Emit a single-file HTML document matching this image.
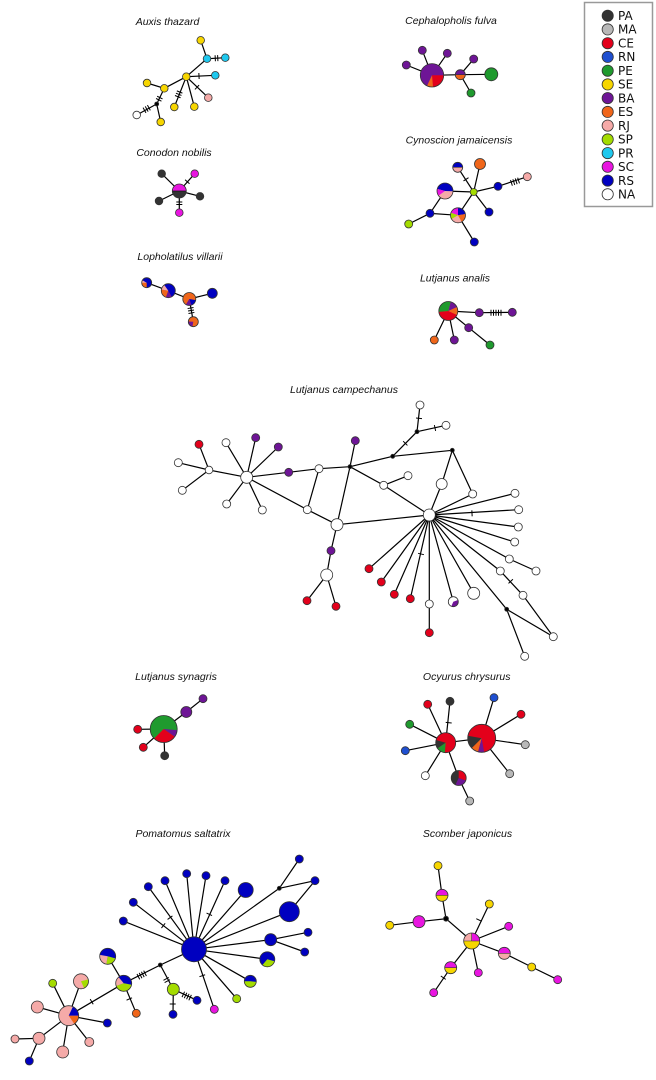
<!DOCTYPE html>
<html><head><meta charset="utf-8"><style>
html,body{margin:0;padding:0;background:#fff;}
svg{display:block;}
.e line,.e path{stroke:#000;stroke-width:1.2;fill:none;}
.t path{stroke:#000;stroke-width:1;fill:none;}
.n circle{stroke:#333;stroke-width:.8;}
.ttl{font-family:"Liberation Sans",Arial,sans-serif;font-style:italic;font-size:10.5px;fill:#111;text-anchor:middle;}
.lg{font-family:"DejaVu Sans","Liberation Sans",sans-serif;font-size:12px;fill:#111;}
</style></head><body>
<svg width="656" height="1080" viewBox="0 0 656 1080" xmlns="http://www.w3.org/2000/svg">

<!-- Titles -->
<text class="ttl" x="167.5" y="25">Auxis thazard</text>
<text class="ttl" x="451" y="24">Cephalopholis fulva</text>
<text class="ttl" x="174" y="156">Conodon nobilis</text>
<text class="ttl" x="459" y="143.3">Cynoscion jamaicensis</text>
<text class="ttl" x="180" y="260">Lopholatilus villarii</text>
<text class="ttl" x="455" y="281.7">Lutjanus analis</text>
<text class="ttl" x="344" y="393">Lutjanus campechanus</text>
<text class="ttl" x="176" y="680">Lutjanus synagris</text>
<text class="ttl" x="466.7" y="680">Ocyurus chrysurus</text>
<text class="ttl" x="183" y="837">Pomatomus saltatrix</text>
<text class="ttl" x="467.5" y="837">Scomber japonicus</text>

<!-- Legend -->
<rect x="584.5" y="2.5" width="68" height="204" fill="#fff" stroke="#999" stroke-width="1.5"/>
<g class="n">
<circle cx="607.7" cy="15.7" r="5.6" fill="#333333"/>
<circle cx="607.7" cy="29.4" r="5.6" fill="#b8b8b8"/>
<circle cx="607.7" cy="43.2" r="5.6" fill="#e3001b"/>
<circle cx="607.7" cy="56.9" r="5.6" fill="#1f4fd0"/>
<circle cx="607.7" cy="70.7" r="5.6" fill="#1f9a2e"/>
<circle cx="607.7" cy="84.4" r="5.6" fill="#f7d600"/>
<circle cx="607.7" cy="98.1" r="5.6" fill="#6e1596"/>
<circle cx="607.7" cy="111.9" r="5.6" fill="#f0661a"/>
<circle cx="607.7" cy="125.6" r="5.6" fill="#f5aaa8"/>
<circle cx="607.7" cy="139.4" r="5.6" fill="#a4dc00"/>
<circle cx="607.7" cy="153.1" r="5.6" fill="#1ec8ee"/>
<circle cx="607.7" cy="166.8" r="5.6" fill="#e815e0"/>
<circle cx="607.7" cy="180.6" r="5.6" fill="#0000c0"/>
<circle cx="607.7" cy="194.3" r="5.6" fill="#ffffff"/>
</g>
<text class="lg" x="618" y="20">PA</text>
<text class="lg" x="618" y="33.7">MA</text>
<text class="lg" x="618" y="47.5">CE</text>
<text class="lg" x="618" y="61.2">RN</text>
<text class="lg" x="618" y="75">PE</text>
<text class="lg" x="618" y="88.7">SE</text>
<text class="lg" x="618" y="102.4">BA</text>
<text class="lg" x="618" y="116.2">ES</text>
<text class="lg" x="618" y="129.9">RJ</text>
<text class="lg" x="618" y="143.7">SP</text>
<text class="lg" x="618" y="157.4">PR</text>
<text class="lg" x="618" y="171.1">SC</text>
<text class="lg" x="618" y="184.9">RS</text>
<text class="lg" x="618" y="198.6">NA</text>

<!-- ===== EDGES ===== -->
<g class="e">
<!-- Auxis -->
<path d="M200.7,40.3L207,58.7L225.3,57.7M207,58.7L186.3,76.7L215.3,75.3M186.3,76.7L208.3,97.7M186.3,76.7L164.3,88.3L147,83M186.3,76.7L174.3,107M186.3,76.7L194.3,106.7M164.3,88.3L156.7,104L136.7,115M156.7,104L160.7,122"/>
<!-- Cephalopholis -->
<path d="M432,75.3L406.3,65M432,75.3L422.3,50.3M432,75.3L447.3,53.3M432,75.3L460.3,74.7L491.3,74.3M460.3,74.7L473.7,59M460.3,74.7L471,93"/>
<!-- Cynoscion -->
<path d="M457.7,167.3L473.7,192M480,164L473.7,192M445,191L473.7,192L498,186.3L527.3,176.7M473.7,192L489,212M473.7,192L458,215.3M445,191L430,213.3L458,215.3M430,213.3L408.7,224M458,215.3L474.3,242"/>
<!-- Conodon -->
<path d="M179.3,191L161.7,173.7M179.3,191L194.7,173.7M179.3,191L159,201M179.3,191L200,196.3M179.3,191L179.3,212.7"/>
<!-- Lopholatilus -->
<path d="M146.7,282.7L168.3,290.7L189.3,299L212.3,293.3M189.3,299L193.3,321.7"/>
<!-- Analis -->
<path d="M448.3,311L479.3,312.7L512.3,312.3M448.3,311L468.7,327.7L490,345M448.3,311L434.3,340M448.3,311L454.3,340"/>
<!-- Campechanus -->
<path d="M199,444.3L209,470M178.3,462.7L209,470M182.3,490.3L209,470L246.7,477.3
M246.7,477.3L226,442.7M246.7,477.3L255.7,437.7M246.7,477.3L278.3,447M246.7,477.3L226.7,504M246.7,477.3L262.3,510M246.7,477.3L288.7,472.3L319,468.7L350,466.7M246.7,477.3L307.3,509.7L337,524.7M319,468.7L307.3,509.7
M350,466.7L355.3,440.7M350,466.7L337,524.7M350,466.7L392.7,456.3L452.3,450.3M392.7,456.3L417,431.7L420,405M417,431.7L446,425.3
M350,466.7L383.7,485.3L429.3,515M383.7,485.3L408,475.7M337,524.7L429.3,515M452.3,450.3L441.7,484L429.3,515M452.3,450.3L472.7,494L429.3,515
M429.3,515L515,493.3M429.3,515L518.7,509.7M429.3,515L518.3,527M429.3,515L514.7,542M429.3,515L509.3,559L536,571M429.3,515L500.3,571L523,595.3L553.3,636.7M429.3,515L506.7,609.3L553.3,636.7M506.7,609.3L524.7,656.3
M429.3,515L369,568.7M429.3,515L381.3,582M429.3,515L394.3,594.3M429.3,515L410.3,598.7M429.3,515L429.3,604L429.3,632.7M429.3,515L453.3,601.7M429.3,515L473.7,593.3
M337,524.7L331,550.7L326.7,575L307,600.7M326.7,575L336,606.3"/>
<!-- Synagris -->
<path d="M163.7,729L186.3,712L203,698.7M163.7,729L137.7,729.3M163.7,729L143.3,747.3M163.7,729L164.7,755.7"/>
<!-- Ocyurus -->
<path d="M445.7,742.7L481.7,738.3M445.7,742.7L427.7,704.3M445.7,742.7L450,701.3M445.7,742.7L409.7,724.3M445.7,742.7L405.3,750.7M445.7,742.7L425.3,775.7M445.7,742.7L458.7,778L469.7,801M481.7,738.3L494,697.7M481.7,738.3L521,714.3M481.7,738.3L525.3,744.7M481.7,738.3L509.7,773.7"/>
<!-- Pomatomus -->
<path d="M194,949.3L123.3,921M194,949.3L133.3,902.3M194,949.3L148.3,886.7M194,949.3L165,880.7M194,949.3L186.7,873.7M194,949.3L206,875.7M194,949.3L225,880.7M194,949.3L245.7,890M194,949.3L279.3,888.3M194,949.3L289.3,911.7M194,949.3L270.7,939.7M194,949.3L267.3,959.3M194,949.3L250.3,981.3M194,949.3L236.7,998.7M194,949.3L214.3,1009.3M194,949.3L160.3,965
M279.3,888.3L299.3,859M279.3,888.3L315,880.7L289.3,911.7M270.7,939.7L308,932.3M270.7,939.7L304.7,952
M160.3,965L173.3,989.3L197,1000.3M173.3,989.3L173,1014.3M160.3,965L123.7,983.3L107.7,956.3M123.7,983.3L136.3,1013.3M123.7,983.3L68.7,1015.7
M68.7,1015.7L81,981.3M68.7,1015.7L52.7,983.3M68.7,1015.7L37.3,1007M68.7,1015.7L107.3,1023M68.7,1015.7L89.3,1042M68.7,1015.7L62.7,1052M68.7,1015.7L39,1038.3L15,1039M39,1038.3L29.3,1061"/>
<!-- Scomber -->
<path d="M438,865.7L442,895.3L446,918.7L419,921.7L389.7,925.3M446,918.7L471.7,941L489.3,904M471.7,941L508.7,926.3M471.7,941L504.3,953.3L531.7,967L557.7,979.7M471.7,941L478.3,972.7M471.7,941L450.7,967.7L433.7,992.7"/>
</g>

<!-- ===== TICKS ===== -->
<g class="t">
<path transform="translate(216.5,58.2) rotate(-3)" d="M-1.25,-3V3M1.25,-3V3"/>
<path transform="translate(199,76) rotate(-3)" d="M0,-3V3"/>
<path transform="translate(197,87.3) rotate(44)" d="M0,-3V3"/>
<path transform="translate(178.7,94.3) rotate(112)" d="M-2.5,-3V3M0,-3V3M2.5,-3V3"/>
<path transform="translate(159.3,98.7) rotate(116)" d="M-1.25,-3V3M1.25,-3V3"/>
<path transform="translate(146.7,109) rotate(151)" d="M-2.5,-3V3M0,-3V3M2.5,-3V3"/>
<path transform="translate(187.3,181.7) rotate(-48)" d="M0,-3V3"/>
<path transform="translate(179.3,203.3) rotate(90)" d="M-1.25,-3V3M1.25,-3V3"/>
<path transform="translate(191,310.5) rotate(80)" d="M-2.5,-3V3M0,-3V3M2.5,-3V3"/>
<path transform="translate(466,179.3) rotate(57)" d="M0,-3V3"/>
<path transform="translate(515,181.7) rotate(-18)" d="M-3.75,-3V3M-1.25,-3V3M1.25,-3V3M3.75,-3V3"/>
<path transform="translate(496,312.7) rotate(0)" d="M-5,-3V3M-2.5,-3V3M0,-3V3M2.5,-3V3M5,-3V3"/>
<path transform="translate(405.3,443.3) rotate(-45)" d="M0,-3V3"/>
<path transform="translate(419,418.3) rotate(-84)" d="M0,-3V3"/>
<path transform="translate(435,428) rotate(-12)" d="M0,-3V3"/>
<path transform="translate(472,513.3) rotate(-3)" d="M0,-3V3"/>
<path transform="translate(421,554) rotate(103)" d="M0,-3V3"/>
<path transform="translate(510.7,581.3) rotate(47)" d="M0,-3V3"/>
<path transform="translate(448.7,722.7) rotate(-84)" d="M0,-3V3"/>
<path transform="translate(163.3,925.7) rotate(38)" d="M0,-3V3"/>
<path transform="translate(170,917.7) rotate(54)" d="M0,-3V3"/>
<path transform="translate(209.3,914.3) rotate(-66)" d="M0,-3V3"/>
<path transform="translate(202.3,975.7) rotate(71)" d="M0,-3V3"/>
<path transform="translate(166.7,980) rotate(62)" d="M-1.25,-3V3M1.25,-3V3"/>
<path transform="translate(186.7,996) rotate(25)" d="M-3.75,-3V3M-1.25,-3V3M1.25,-3V3M3.75,-3V3"/>
<path transform="translate(172.7,1004) rotate(90)" d="M0,-3V3"/>
<path transform="translate(141.7,975) rotate(153)" d="M-3.75,-3V3M-1.25,-3V3M1.25,-3V3M3.75,-3V3"/>
<path transform="translate(129.3,999) rotate(67)" d="M0,-3V3"/>
<path transform="translate(91.7,1001.7) rotate(150)" d="M0,-3V3"/>
<path transform="translate(479,920) rotate(-65)" d="M0,-3V3"/>
<path transform="translate(443.3,977.7) rotate(124)" d="M0,-3V3"/>
</g>

<!-- ===== NODES ===== -->
<g class="n">
<!-- Auxis -->
<circle cx="200.7" cy="40.3" r="3.8" fill="#f7d600"/>
<circle cx="207" cy="58.7" r="3.8" fill="#1ec8ee"/>
<circle cx="225.3" cy="57.7" r="3.8" fill="#1ec8ee"/>
<circle cx="186.3" cy="76.7" r="3.8" fill="#f7d600"/>
<circle cx="215.3" cy="75.3" r="3.8" fill="#1ec8ee"/>
<circle cx="208.3" cy="97.7" r="3.8" fill="#f5aaa8"/>
<circle cx="164.3" cy="88.3" r="3.8" fill="#f7d600"/>
<circle cx="147" cy="83" r="3.8" fill="#f7d600"/>
<circle cx="174.3" cy="107" r="3.8" fill="#f7d600"/>
<circle cx="194.3" cy="106.7" r="3.8" fill="#f7d600"/>
<circle cx="156.7" cy="104" r="2" fill="#000"/>
<circle cx="136.7" cy="115" r="3.8" fill="#fff"/>
<circle cx="160.7" cy="122" r="3.8" fill="#f7d600"/>

<!-- Cephalopholis -->
<circle cx="406.3" cy="65" r="4" fill="#6e1596"/>
<circle cx="422.3" cy="50.3" r="4" fill="#6e1596"/>
<circle cx="447.3" cy="53.3" r="4" fill="#6e1596"/>
<circle cx="473.7" cy="59" r="4" fill="#6e1596"/>
<circle cx="491.3" cy="74.3" r="6.5" fill="#1f9a2e"/>
<circle cx="471" cy="93" r="4" fill="#1f9a2e"/>

<!-- Cynoscion -->
<circle cx="480" cy="164" r="5.5" fill="#f0661a"/>
<circle cx="473.7" cy="192" r="3.5" fill="#a4dc00"/>
<circle cx="498" cy="186.3" r="4" fill="#0000c0"/>
<circle cx="527.3" cy="176.7" r="4" fill="#f5aaa8"/>
<circle cx="489" cy="212" r="4" fill="#0000c0"/>
<circle cx="430" cy="213.3" r="4" fill="#0000c0"/>
<circle cx="408.7" cy="224" r="4" fill="#a4dc00"/>
<circle cx="474.3" cy="242" r="4" fill="#0000c0"/>

<!-- Conodon -->
<circle cx="161.7" cy="173.7" r="3.8" fill="#333"/>
<circle cx="194.7" cy="173.7" r="3.8" fill="#e815e0"/>
<circle cx="159" cy="201" r="3.8" fill="#333"/>
<circle cx="200" cy="196.3" r="3.8" fill="#333"/>
<circle cx="179.3" cy="212.7" r="3.8" fill="#e815e0"/>

<!-- Lopholatilus -->
<circle cx="212.3" cy="293.3" r="5" fill="#0000c0"/>

<!-- Analis -->
<circle cx="479.3" cy="312.7" r="4" fill="#6e1596"/>
<circle cx="512.3" cy="312.3" r="4" fill="#6e1596"/>
<circle cx="468.7" cy="327.7" r="4" fill="#6e1596"/>
<circle cx="490" cy="345" r="4" fill="#1f9a2e"/>
<circle cx="434.3" cy="340" r="4" fill="#f0661a"/>
<circle cx="454.3" cy="340" r="4" fill="#6e1596"/>

<!-- Campechanus -->
<circle cx="199" cy="444.3" r="4" fill="#e3001b"/>
<circle cx="226" cy="442.7" r="4" fill="#fff"/>
<circle cx="255.7" cy="437.7" r="4" fill="#6e1596"/>
<circle cx="278.3" cy="447" r="4" fill="#6e1596"/>
<circle cx="178.3" cy="462.7" r="4" fill="#fff"/>
<circle cx="209" cy="470" r="3.8" fill="#fff"/>
<circle cx="182.3" cy="490.3" r="4" fill="#fff"/>
<circle cx="246.7" cy="477.3" r="6" fill="#fff"/>
<circle cx="288.7" cy="472.3" r="4" fill="#6e1596"/>
<circle cx="319" cy="468.7" r="4" fill="#fff"/>
<circle cx="350" cy="466.7" r="2" fill="#000"/>
<circle cx="355.3" cy="440.7" r="4" fill="#6e1596"/>
<circle cx="226.7" cy="504" r="4" fill="#fff"/>
<circle cx="262.3" cy="510" r="4" fill="#fff"/>
<circle cx="307.3" cy="509.7" r="4" fill="#fff"/>
<circle cx="337" cy="524.7" r="6" fill="#fff"/>
<circle cx="331" cy="550.7" r="4" fill="#6e1596"/>
<circle cx="326.7" cy="575" r="6" fill="#fff"/>
<circle cx="307" cy="600.7" r="4" fill="#e3001b"/>
<circle cx="336" cy="606.3" r="4" fill="#e3001b"/>
<circle cx="420" cy="405" r="4" fill="#fff"/>
<circle cx="417" cy="431.7" r="2" fill="#000"/>
<circle cx="446" cy="425.3" r="4" fill="#fff"/>
<circle cx="392.7" cy="456.3" r="2" fill="#000"/>
<circle cx="452.3" cy="450.3" r="2" fill="#000"/>
<circle cx="383.7" cy="485.3" r="4" fill="#fff"/>
<circle cx="408" cy="475.7" r="4" fill="#fff"/>
<circle cx="441.7" cy="484" r="5.5" fill="#fff"/>
<circle cx="472.7" cy="494" r="4" fill="#fff"/>
<circle cx="429.3" cy="515" r="6" fill="#fff"/>
<circle cx="515" cy="493.3" r="4" fill="#fff"/>
<circle cx="518.7" cy="509.7" r="4" fill="#fff"/>
<circle cx="518.3" cy="527" r="4" fill="#fff"/>
<circle cx="514.7" cy="542" r="4" fill="#fff"/>
<circle cx="509.3" cy="559" r="4" fill="#fff"/>
<circle cx="536" cy="571" r="4" fill="#fff"/>
<circle cx="500.3" cy="571" r="4" fill="#fff"/>
<circle cx="523" cy="595.3" r="4" fill="#fff"/>
<circle cx="506.7" cy="609.3" r="2" fill="#000"/>
<circle cx="553.3" cy="636.7" r="4" fill="#fff"/>
<circle cx="524.7" cy="656.3" r="4" fill="#fff"/>
<circle cx="369" cy="568.7" r="4" fill="#e3001b"/>
<circle cx="381.3" cy="582" r="4" fill="#e3001b"/>
<circle cx="394.3" cy="594.3" r="4" fill="#e3001b"/>
<circle cx="410.3" cy="598.7" r="4" fill="#e3001b"/>
<circle cx="429.3" cy="604" r="4" fill="#fff"/>
<circle cx="429.3" cy="632.7" r="4" fill="#e3001b"/>
<circle cx="473.7" cy="593.3" r="6" fill="#fff"/>

<!-- Synagris -->
<circle cx="186.3" cy="712" r="5.5" fill="#6e1596"/>
<circle cx="203" cy="698.7" r="4" fill="#6e1596"/>
<circle cx="137.7" cy="729.3" r="4" fill="#e3001b"/>
<circle cx="143.3" cy="747.3" r="4" fill="#e3001b"/>
<circle cx="164.7" cy="755.7" r="4" fill="#333"/>

<!-- Ocyurus -->
<circle cx="427.7" cy="704.3" r="4" fill="#e3001b"/>
<circle cx="450" cy="701.3" r="4" fill="#333"/>
<circle cx="409.7" cy="724.3" r="4" fill="#1f9a2e"/>
<circle cx="405.3" cy="750.7" r="4" fill="#1f4fd0"/>
<circle cx="425.3" cy="775.7" r="4" fill="#fff"/>
<circle cx="469.7" cy="801" r="4" fill="#b8b8b8"/>
<circle cx="494" cy="697.7" r="4" fill="#1f4fd0"/>
<circle cx="521" cy="714.3" r="4" fill="#e3001b"/>
<circle cx="525.3" cy="744.7" r="4" fill="#b8b8b8"/>
<circle cx="509.7" cy="773.7" r="4" fill="#b8b8b8"/>

<!-- Pomatomus -->
<circle cx="194" cy="949.3" r="12.5" fill="#0000c0"/>
<circle cx="299.3" cy="859" r="4" fill="#0000c0"/>
<circle cx="279.3" cy="888.3" r="2" fill="#000"/>
<circle cx="315" cy="880.7" r="4" fill="#0000c0"/>
<circle cx="289.3" cy="911.7" r="10" fill="#0000c0"/>
<circle cx="245.7" cy="890" r="7.5" fill="#0000c0"/>
<circle cx="225" cy="880.7" r="4" fill="#0000c0"/>
<circle cx="206" cy="875.7" r="4" fill="#0000c0"/>
<circle cx="186.7" cy="873.7" r="4" fill="#0000c0"/>
<circle cx="165" cy="880.7" r="4" fill="#0000c0"/>
<circle cx="148.3" cy="886.7" r="4" fill="#0000c0"/>
<circle cx="133.3" cy="902.3" r="4" fill="#0000c0"/>
<circle cx="123.3" cy="921" r="4" fill="#0000c0"/>
<circle cx="270.7" cy="939.7" r="6" fill="#0000c0"/>
<circle cx="308" cy="932.3" r="4" fill="#0000c0"/>
<circle cx="304.7" cy="952" r="4" fill="#0000c0"/>
<circle cx="236.7" cy="998.7" r="4" fill="#a4dc00"/>
<circle cx="214.3" cy="1009.3" r="4" fill="#e815e0"/>
<circle cx="160.3" cy="965" r="2" fill="#000"/>
<circle cx="173.3" cy="989.3" r="6" fill="#a4dc00"/>
<circle cx="197" cy="1000.3" r="4" fill="#0000c0"/>
<circle cx="173" cy="1014.3" r="4" fill="#0000c0"/>
<circle cx="136.3" cy="1013.3" r="4" fill="#f0661a"/>
<circle cx="52.7" cy="983.3" r="4" fill="#a4dc00"/>
<circle cx="37.3" cy="1007" r="6" fill="#f5aaa8"/>
<circle cx="107.3" cy="1023" r="4" fill="#0000c0"/>
<circle cx="89.3" cy="1042" r="4.5" fill="#f5aaa8"/>
<circle cx="62.7" cy="1052" r="6" fill="#f5aaa8"/>
<circle cx="39" cy="1038.3" r="6" fill="#f5aaa8"/>
<circle cx="15" cy="1039" r="4" fill="#f5aaa8"/>
<circle cx="29.3" cy="1061" r="4" fill="#0000c0"/>

<!-- Scomber -->
<circle cx="438" cy="865.7" r="4" fill="#f7d600"/>
<circle cx="446" cy="918.7" r="2.5" fill="#000"/>
<circle cx="419" cy="921.7" r="6" fill="#e815e0"/>
<circle cx="389.7" cy="925.3" r="4" fill="#f7d600"/>
<circle cx="489.3" cy="904" r="4" fill="#f7d600"/>
<circle cx="508.7" cy="926.3" r="4" fill="#e815e0"/>
<circle cx="531.7" cy="967" r="4" fill="#f7d600"/>
<circle cx="557.7" cy="979.7" r="4" fill="#e815e0"/>
<circle cx="478.3" cy="972.7" r="4" fill="#e815e0"/>
<circle cx="433.7" cy="992.7" r="4" fill="#e815e0"/>
</g>

<!-- ===== PIE CHARTS ===== -->
<g fill="none">
<!-- Cephalopholis big -->
<circle cx="432" cy="75.3" r="11.7" fill="#6e1596"/>
<circle cx="432" cy="75.3" r="5.85" stroke="#e3001b" stroke-width="11.7" stroke-dasharray="8.68 999"/>
<circle cx="432" cy="75.3" r="5.85" stroke="#f0661a" stroke-width="11.7" stroke-dasharray="3.06 999" transform="rotate(85 432 75.3)"/>
<circle cx="432" cy="75.3" r="11.7" stroke="#333" stroke-width=".8"/>
<!-- Cephalopholis mid -->
<circle cx="460.3" cy="74.7" r="5" fill="#6e1596"/>
<circle cx="460.3" cy="74.7" r="2.5" stroke="#f0661a" stroke-width="5" stroke-dasharray="7.85 999"/>
<line x1="455.3" y1="74.7" x2="465.3" y2="74.7" stroke="#333" stroke-width=".6"/>
<circle cx="460.3" cy="74.7" r="5" stroke="#333" stroke-width=".8"/>

<!-- Cynoscion top -->
<circle cx="457.7" cy="167.3" r="5" fill="#0000c0"/>
<circle cx="457.7" cy="167.3" r="2.5" stroke="#f5aaa8" stroke-width="5" stroke-dasharray="7.85 999"/>
<line x1="452.7" y1="167.3" x2="462.7" y2="167.3" stroke="#333" stroke-width=".6"/>
<circle cx="457.7" cy="167.3" r="5" stroke="#333" stroke-width=".8"/>
<!-- Cynoscion big -->
<circle cx="445" cy="191" r="8" fill="#f5aaa8"/>
<circle cx="445" cy="191" r="4" stroke="#0000c0" stroke-width="8" stroke-dasharray="11.52 999" transform="rotate(195 445 191)"/>
<circle cx="445" cy="191" r="4" stroke="#e815e0" stroke-width="8" stroke-dasharray="3.49 999" transform="rotate(145 445 191)"/>
<circle cx="445" cy="191" r="8" stroke="#333" stroke-width=".8"/>
<!-- Cynoscion lower -->
<circle cx="458" cy="215.3" r="7.5" fill="#f5aaa8"/>
<circle cx="458" cy="215.3" r="3.75" stroke="#e815e0" stroke-width="7.5" stroke-dasharray="4.58 999" transform="rotate(200 458 215.3)"/>
<circle cx="458" cy="215.3" r="3.75" stroke="#0000c0" stroke-width="7.5" stroke-dasharray="5.24 999" transform="rotate(270 458 215.3)"/>
<circle cx="458" cy="215.3" r="3.75" stroke="#f0661a" stroke-width="7.5" stroke-dasharray="4.58 999" transform="rotate(350 458 215.3)"/>
<circle cx="458" cy="215.3" r="3.75" stroke="#a4dc00" stroke-width="7.5" stroke-dasharray="3.27 999" transform="rotate(150 458 215.3)"/>
<circle cx="458" cy="215.3" r="7.5" stroke="#333" stroke-width=".8"/>

<!-- Conodon -->
<circle cx="179.3" cy="191" r="7" fill="#e815e0"/>
<circle cx="179.3" cy="191" r="3.5" stroke="#333" stroke-width="7" stroke-dasharray="11.0 999"/>
<line x1="172.3" y1="191" x2="186.3" y2="191" stroke="#111" stroke-width=".7"/>
<circle cx="179.3" cy="191" r="7" stroke="#333" stroke-width=".8"/>

<!-- Lopholatilus -->
<circle cx="146.7" cy="282.7" r="5" fill="#0000c0"/>
<circle cx="146.7" cy="282.7" r="2.5" stroke="#f0661a" stroke-width="5" stroke-dasharray="3.93 999" transform="rotate(90 146.7 282.7)"/>
<circle cx="146.7" cy="282.7" r="2.5" stroke="#f5aaa8" stroke-width="5" stroke-dasharray="1.31 999" transform="rotate(180 146.7 282.7)"/>
<circle cx="146.7" cy="282.7" r="5" stroke="#333" stroke-width=".8"/>

<circle cx="168.3" cy="290.7" r="7" fill="#0000c0"/>
<circle cx="168.3" cy="290.7" r="3.5" stroke="#6e1596" stroke-width="7" stroke-dasharray="3.05 999" transform="rotate(60 168.3 290.7)"/>
<circle cx="168.3" cy="290.7" r="3.5" stroke="#f0661a" stroke-width="7" stroke-dasharray="4.89 999" transform="rotate(110 168.3 290.7)"/>
<circle cx="168.3" cy="290.7" r="3.5" stroke="#f5aaa8" stroke-width="7" stroke-dasharray="2.75 999" transform="rotate(190 168.3 290.7)"/>
<circle cx="168.3" cy="290.7" r="7" stroke="#333" stroke-width=".8"/>

<circle cx="189.3" cy="299" r="6.5" fill="#f0661a"/>
<circle cx="189.3" cy="299" r="3.25" stroke="#0000c0" stroke-width="6.5" stroke-dasharray="3.40 999" transform="rotate(10 189.3 299)"/>
<circle cx="189.3" cy="299" r="3.25" stroke="#6e1596" stroke-width="6.5" stroke-dasharray="2.84 999" transform="rotate(70 189.3 299)"/>
<circle cx="189.3" cy="299" r="6.5" stroke="#333" stroke-width=".8"/>

<circle cx="193.3" cy="321.7" r="5" fill="#f0661a"/>
<circle cx="193.3" cy="321.7" r="2.5" stroke="#6e1596" stroke-width="5" stroke-dasharray="3.49 999" transform="rotate(100 193.3 321.7)"/>
<circle cx="193.3" cy="321.7" r="5" stroke="#333" stroke-width=".8"/>

<!-- Analis -->
<circle cx="448.3" cy="311" r="9.5" fill="#f0661a"/>
<circle cx="448.3" cy="311" r="4.75" stroke="#e3001b" stroke-width="9.5" stroke-dasharray="12.44 999" transform="rotate(25 448.3 311)"/>
<circle cx="448.3" cy="311" r="4.75" stroke="#1f9a2e" stroke-width="9.5" stroke-dasharray="9.12 999" transform="rotate(175 448.3 311)"/>
<circle cx="448.3" cy="311" r="4.75" stroke="#6e1596" stroke-width="9.5" stroke-dasharray="4.15 999" transform="rotate(285 448.3 311)"/>
<circle cx="448.3" cy="311" r="9.5" stroke="#333" stroke-width=".8"/>

<!-- Campechanus pie -->
<circle cx="453.3" cy="601.7" r="5" fill="#fff"/>
<circle cx="453.3" cy="601.7" r="2.5" stroke="#6e1596" stroke-width="5" stroke-dasharray="5.67 999" transform="rotate(340 453.3 601.7)"/>
<circle cx="453.3" cy="601.7" r="5" stroke="#333" stroke-width=".8"/>

<!-- Synagris -->
<circle cx="163.7" cy="729" r="13.5" fill="#1f9a2e"/>
<circle cx="163.7" cy="729" r="6.75" stroke="#6e1596" stroke-width="13.5" stroke-dasharray="3.53 999" transform="rotate(5 163.7 729)"/>
<circle cx="163.7" cy="729" r="6.75" stroke="#e3001b" stroke-width="13.5" stroke-dasharray="11.78 999" transform="rotate(35 163.7 729)"/>
<circle cx="163.7" cy="729" r="13.5" stroke="#333" stroke-width=".8"/>

<!-- Ocyurus -->
<circle cx="445.7" cy="742.7" r="10" fill="#e3001b"/>
<circle cx="445.7" cy="742.7" r="5" stroke="#333" stroke-width="10" stroke-dasharray="4.36 999" transform="rotate(145 445.7 742.7)"/>
<circle cx="445.7" cy="742.7" r="5" stroke="#1f9a2e" stroke-width="10" stroke-dasharray="4.36 999" transform="rotate(95 445.7 742.7)"/>
<circle cx="445.7" cy="742.7" r="10" stroke="#333" stroke-width=".8"/>

<circle cx="481.7" cy="738.3" r="14" fill="#e3001b"/>
<circle cx="481.7" cy="738.3" r="7" stroke="#333" stroke-width="14" stroke-dasharray="6.72 999" transform="rotate(135 481.7 738.3)"/>
<circle cx="481.7" cy="738.3" r="7" stroke="#f0661a" stroke-width="14" stroke-dasharray="3.67 999" transform="rotate(105 481.7 738.3)"/>
<circle cx="481.7" cy="738.3" r="7" stroke="#6e1596" stroke-width="14" stroke-dasharray="3.05 999" transform="rotate(80 481.7 738.3)"/>
<circle cx="481.7" cy="738.3" r="14" stroke="#333" stroke-width=".8"/>

<circle cx="458.7" cy="778" r="7.5" fill="#333"/>
<circle cx="458.7" cy="778" r="3.75" stroke="#e3001b" stroke-width="7.5" stroke-dasharray="7.20 999" transform="rotate(270 458.7 778)"/>
<circle cx="458.7" cy="778" r="3.75" stroke="#6e1596" stroke-width="7.5" stroke-dasharray="6.22 999" transform="rotate(20 458.7 778)"/>
<circle cx="458.7" cy="778" r="7.5" stroke="#333" stroke-width=".8"/>

<!-- Pomatomus pies -->
<circle cx="267.3" cy="959.3" r="7.5" fill="#0000c0"/>
<circle cx="267.3" cy="959.3" r="3.75" stroke="#a4dc00" stroke-width="7.5" stroke-dasharray="7.53 999" transform="rotate(15 267.3 959.3)"/>
<circle cx="267.3" cy="959.3" r="7.5" stroke="#333" stroke-width=".8"/>

<circle cx="250.3" cy="981.3" r="6" fill="#0000c0"/>
<circle cx="250.3" cy="981.3" r="3" stroke="#a4dc00" stroke-width="6" stroke-dasharray="8.90 999" transform="rotate(5 250.3 981.3)"/>
<circle cx="250.3" cy="981.3" r="6" stroke="#333" stroke-width=".8"/>

<circle cx="123.7" cy="983.3" r="8" fill="#0000c0"/>
<circle cx="123.7" cy="983.3" r="4" stroke="#a4dc00" stroke-width="8" stroke-dasharray="10.47 999" transform="rotate(10 123.7 983.3)"/>
<circle cx="123.7" cy="983.3" r="4" stroke="#f5aaa8" stroke-width="8" stroke-dasharray="4.89 999" transform="rotate(160 123.7 983.3)"/>
<circle cx="123.7" cy="983.3" r="8" stroke="#333" stroke-width=".8"/>

<circle cx="107.7" cy="956.3" r="8" fill="#0000c0"/>
<circle cx="107.7" cy="956.3" r="4" stroke="#a4dc00" stroke-width="8" stroke-dasharray="5.93 999" transform="rotate(15 107.7 956.3)"/>
<circle cx="107.7" cy="956.3" r="4" stroke="#f5aaa8" stroke-width="8" stroke-dasharray="6.28 999" transform="rotate(100 107.7 956.3)"/>
<circle cx="107.7" cy="956.3" r="8" stroke="#333" stroke-width=".8"/>

<circle cx="68.7" cy="1015.7" r="10" fill="#f5aaa8"/>
<circle cx="68.7" cy="1015.7" r="5" stroke="#0000c0" stroke-width="10" stroke-dasharray="5.67 999" transform="rotate(295 68.7 1015.7)"/>
<circle cx="68.7" cy="1015.7" r="5" stroke="#f0661a" stroke-width="10" stroke-dasharray="4.80 999"/>
<circle cx="68.7" cy="1015.7" r="10" stroke="#333" stroke-width=".8"/>

<circle cx="81" cy="981.3" r="7.5" fill="#f5aaa8"/>
<circle cx="81" cy="981.3" r="3.75" stroke="#a4dc00" stroke-width="7.5" stroke-dasharray="5.24 999" transform="rotate(345 81 981.3)"/>
<circle cx="81" cy="981.3" r="7.5" stroke="#333" stroke-width=".8"/>

<!-- Scomber pies -->
<circle cx="442" cy="895.3" r="6" fill="#e815e0"/>
<circle cx="442" cy="895.3" r="3" stroke="#f7d600" stroke-width="6" stroke-dasharray="9.42 999"/>
<line x1="436" y1="895.3" x2="448" y2="895.3" stroke="#333" stroke-width=".6"/>
<circle cx="442" cy="895.3" r="6" stroke="#333" stroke-width=".8"/>

<circle cx="471.7" cy="941" r="8" fill="#f7d600"/>
<circle cx="471.7" cy="941" r="4" stroke="#f5aaa8" stroke-width="8" stroke-dasharray="6.28 999" transform="rotate(180 471.7 941)"/>
<circle cx="471.7" cy="941" r="4" stroke="#e815e0" stroke-width="8" stroke-dasharray="6.28 999" transform="rotate(270 471.7 941)"/>
<path d="M463.7,941H479.7M471.7,941V933" stroke="#333" stroke-width=".6"/>
<circle cx="471.7" cy="941" r="8" stroke="#333" stroke-width=".8"/>

<circle cx="504.3" cy="953.3" r="6" fill="#e815e0"/>
<circle cx="504.3" cy="953.3" r="3" stroke="#f5aaa8" stroke-width="6" stroke-dasharray="9.42 999"/>
<line x1="498.3" y1="953.3" x2="510.3" y2="953.3" stroke="#333" stroke-width=".6"/>
<circle cx="504.3" cy="953.3" r="6" stroke="#333" stroke-width=".8"/>

<circle cx="450.7" cy="967.7" r="6" fill="#e815e0"/>
<circle cx="450.7" cy="967.7" r="3" stroke="#f7d600" stroke-width="6" stroke-dasharray="9.42 999"/>
<line x1="444.7" y1="967.7" x2="456.7" y2="967.7" stroke="#333" stroke-width=".6"/>
<circle cx="450.7" cy="967.7" r="6" stroke="#333" stroke-width=".8"/>
</g>
</svg>
</body></html>
